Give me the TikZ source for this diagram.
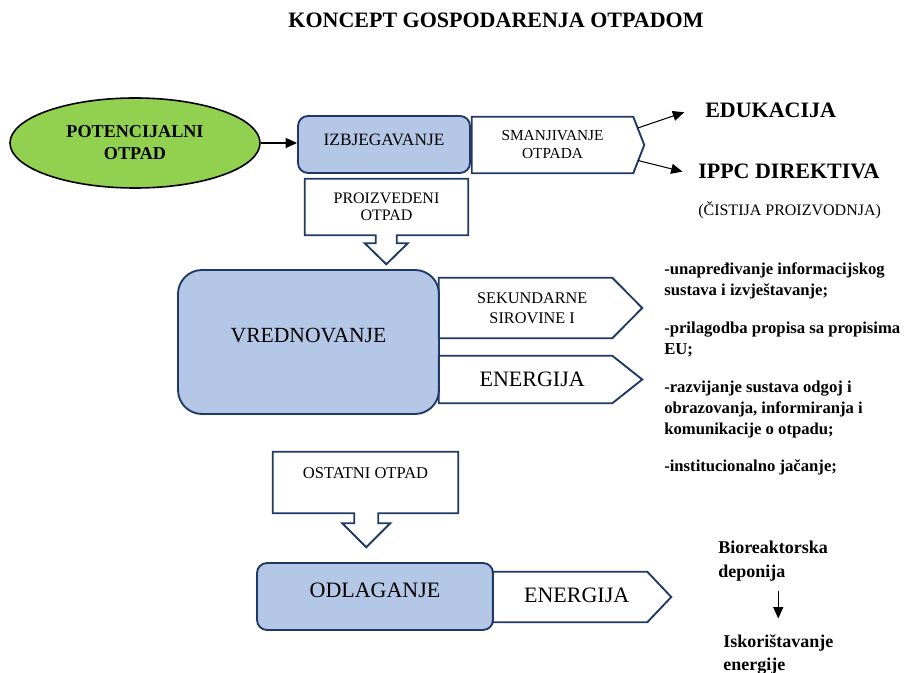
\documentclass[tikz,border=0pt]{standalone}
\usepackage{fontspec}
\setmainfont{Liberation Serif}
\usetikzlibrary{arrows.meta,positioning,calc,shapes.geometric}
\definecolor{bluFill}{RGB}{180,199,231}
\definecolor{bluLine}{RGB}{32,56,100}
\definecolor{zelena}{RGB}{146,208,80}

\begin{document}
\begin{tikzpicture}[x=0.75pt, y=-0.75pt,
    faza/.style={draw=bluLine, line width=1.4pt, fill=bluFill},
    obrub/.style={draw=bluLine, line width=1.4pt, line join=miter},
    okvir/.style={inner sep=0pt, align=center},
    veza/.style={-{Triangle[length=8.5pt,width=7.5pt]}, line width=0.8pt},
    popis/.style={anchor=north west, inner sep=0pt, align=left}]
\useasboundingbox (0,0) rectangle (918,673);

\node[font=\fontsize{16.5pt}{19pt}\selectfont\bfseries] (naslov) at (496,20) {KONCEPT GOSPODARENJA OTPADOM};

\node[ellipse, draw, line width=1.2pt, fill=zelena, minimum width=187.5pt, minimum height=67.5pt,
      align=center, font=\fontsize{13.6pt}{16.5pt}\selectfont\bfseries] (potenc) at (135,143) {POTENCIJALNI\\OTPAD};
\node[faza, rounded corners=7.5pt, minimum width=129pt, minimum height=42.75pt,
      font=\fontsize{13pt}{15pt}\selectfont, text height=8.6pt, text depth=6.8pt] (izbjeg) at (384,144.5) {IZBJEGAVANJE};
\draw[veza] (potenc.east) -- (izbjeg.west |- potenc.east);

\node[okvir, minimum width=120.75pt, minimum height=42pt, font=\fontsize{11.5pt}{13.5pt}\selectfont] (smanj) at (552.5,145) {SMANJIVANJE\\OTPADA};
\coordinate (smanjvrh) at ($(smanj.east)+(11,0)$);
\draw[obrub] (smanj.north west) -- (smanj.north east) -- (smanjvrh) -- (smanj.south east) -- (smanj.south west) -- cycle;

\node[anchor=west, inner sep=0pt, font=\fontsize{16.5pt}{19pt}\selectfont\bfseries] (eduk) at (705,110.5) {EDUKACIJA};
\node[anchor=west, inner sep=0pt, font=\fontsize{16.5pt}{19pt}\selectfont\bfseries] (ippc) at (698,171.5) {IPPC DIREKTIVA};
\node[anchor=west, inner sep=0pt, font=\fontsize{12pt}{14pt}\selectfont] (cistija) at (698,210) {(ČISTIJA PROIZVODNJA)};
\draw[veza, shorten >=16.5pt] ($(smanj.north east)!0.4!(smanjvrh)$) -- ([yshift=4pt]eduk.west);
\draw[veza, shorten >=12pt] ($(smanj.south east)!0.45!(smanjvrh)$) -- ([yshift=-3pt]ippc.west);

\node[okvir, minimum width=122.25pt, minimum height=42pt, font=\fontsize{12pt}{12.75pt}\selectfont] (proizv) at (386.5,207) {PROIZVEDENI\\OTPAD};
\draw[obrub] (proizv.north west) -- (proizv.north east) -- (proizv.south east) -- ++(-71.5,0) -- ++(0,8) -- ++(11,0)
    -- ++(-21.5,21) -- ++(-21.5,-21) -- ++(11,0) -- ++(0,-8) -- (proizv.south west) -- cycle;

\node[faza, rounded corners=18pt, minimum width=195.75pt, minimum height=108pt,
      font=\fontsize{16.2pt}{19pt}\selectfont, text height=10.7pt, text depth=10.5pt] (vredn) at (308.5,342) {VREDNOVANJE};

\node[okvir, minimum width=129.75pt, minimum height=45pt,
      label={[okvir, xshift=5pt, font=\fontsize{12.2pt}{15pt}\selectfont]center:SEKUNDARNE\\SIROVINE I}] (sekund) at (525.5,308) {};
\coordinate (sekundvrh) at ($(sekund.east)+(30,0)$);
\draw[obrub] (sekund.north west) -- (sekund.north east) -- (sekundvrh) -- (sekund.south east) -- (sekund.south west) -- cycle;

\node[okvir, minimum width=129.75pt, minimum height=35.25pt,
      label={[okvir, xshift=5pt, font=\fontsize{16.5pt}{19pt}\selectfont]center:ENERGIJA}] (energ) at (525.5,379.5) {};
\coordinate (energvrh) at ($(energ.east)+(30,0)$);
\draw[obrub] (energ.north west) -- (energ.north east) -- (energvrh) -- (energ.south east) -- (energ.south west) -- cycle;

\node[popis, font=\fontsize{12.5pt}{15.75pt}\selectfont\bfseries] (mjere) at (664,262)
    {-unapređivanje informacijskog\\sustava i izvještavanje;\\[12.75pt]-prilagodba propisa sa propisima\\EU;\\[12.75pt]-razvijanje sustava odgoj i\\obrazovanja, informiranja i\\komunikacije o otpadu;\\[12pt]-institucionalno jačanje;};

\node[okvir, minimum width=138.75pt, minimum height=45.75pt, font=\fontsize{12.4pt}{15pt}\selectfont,
      text height=8.2pt, text depth=14.2pt] (ostat) at (365.5,482.5) {OSTATNI OTPAD};
\draw[obrub] (ostat.north west) -- (ostat.north east) -- (ostat.south east) -- ++(-80,0) -- ++(0,10) -- ++(12,0)
    -- ++(-24,24) -- ++(-24,-24) -- ++(12,0) -- ++(0,-10) -- (ostat.south west) -- cycle;

\node[faza, rounded corners=7.5pt, minimum width=177pt, minimum height=50.25pt,
      font=\fontsize{16.5pt}{19pt}\selectfont, text height=10.9pt, text depth=9.8pt] (odlag) at (375,596.5) {ODLAGANJE};

\node[okvir, minimum width=115.5pt, minimum height=37.5pt,
      label={[okvir, xshift=5pt, yshift=1pt, font=\fontsize{16.5pt}{19pt}\selectfont]center:ENERGIJA}] (energdva) at (570,597) {};
\coordinate (energdvavrh) at ($(energdva.east)+(24,0)$);
\draw[obrub] (energdva.north west) -- (energdva.north east) -- (energdvavrh) -- (energdva.south east) -- (energdva.south west) -- cycle;

\node[popis, font=\fontsize{13.5pt}{18pt}\selectfont\bfseries] (bio) at (718,541) {Bioreaktorska\\deponija};
\node[popis, font=\fontsize{13.5pt}{17.25pt}\selectfont\bfseries] (isk) at (723,634.5) {Iskorištavanje\\energije};
\draw[veza, shorten <=6.75pt, shorten >=12pt] (bio.south -| isk.north) -- (isk.north);
\end{tikzpicture}
\end{document}
